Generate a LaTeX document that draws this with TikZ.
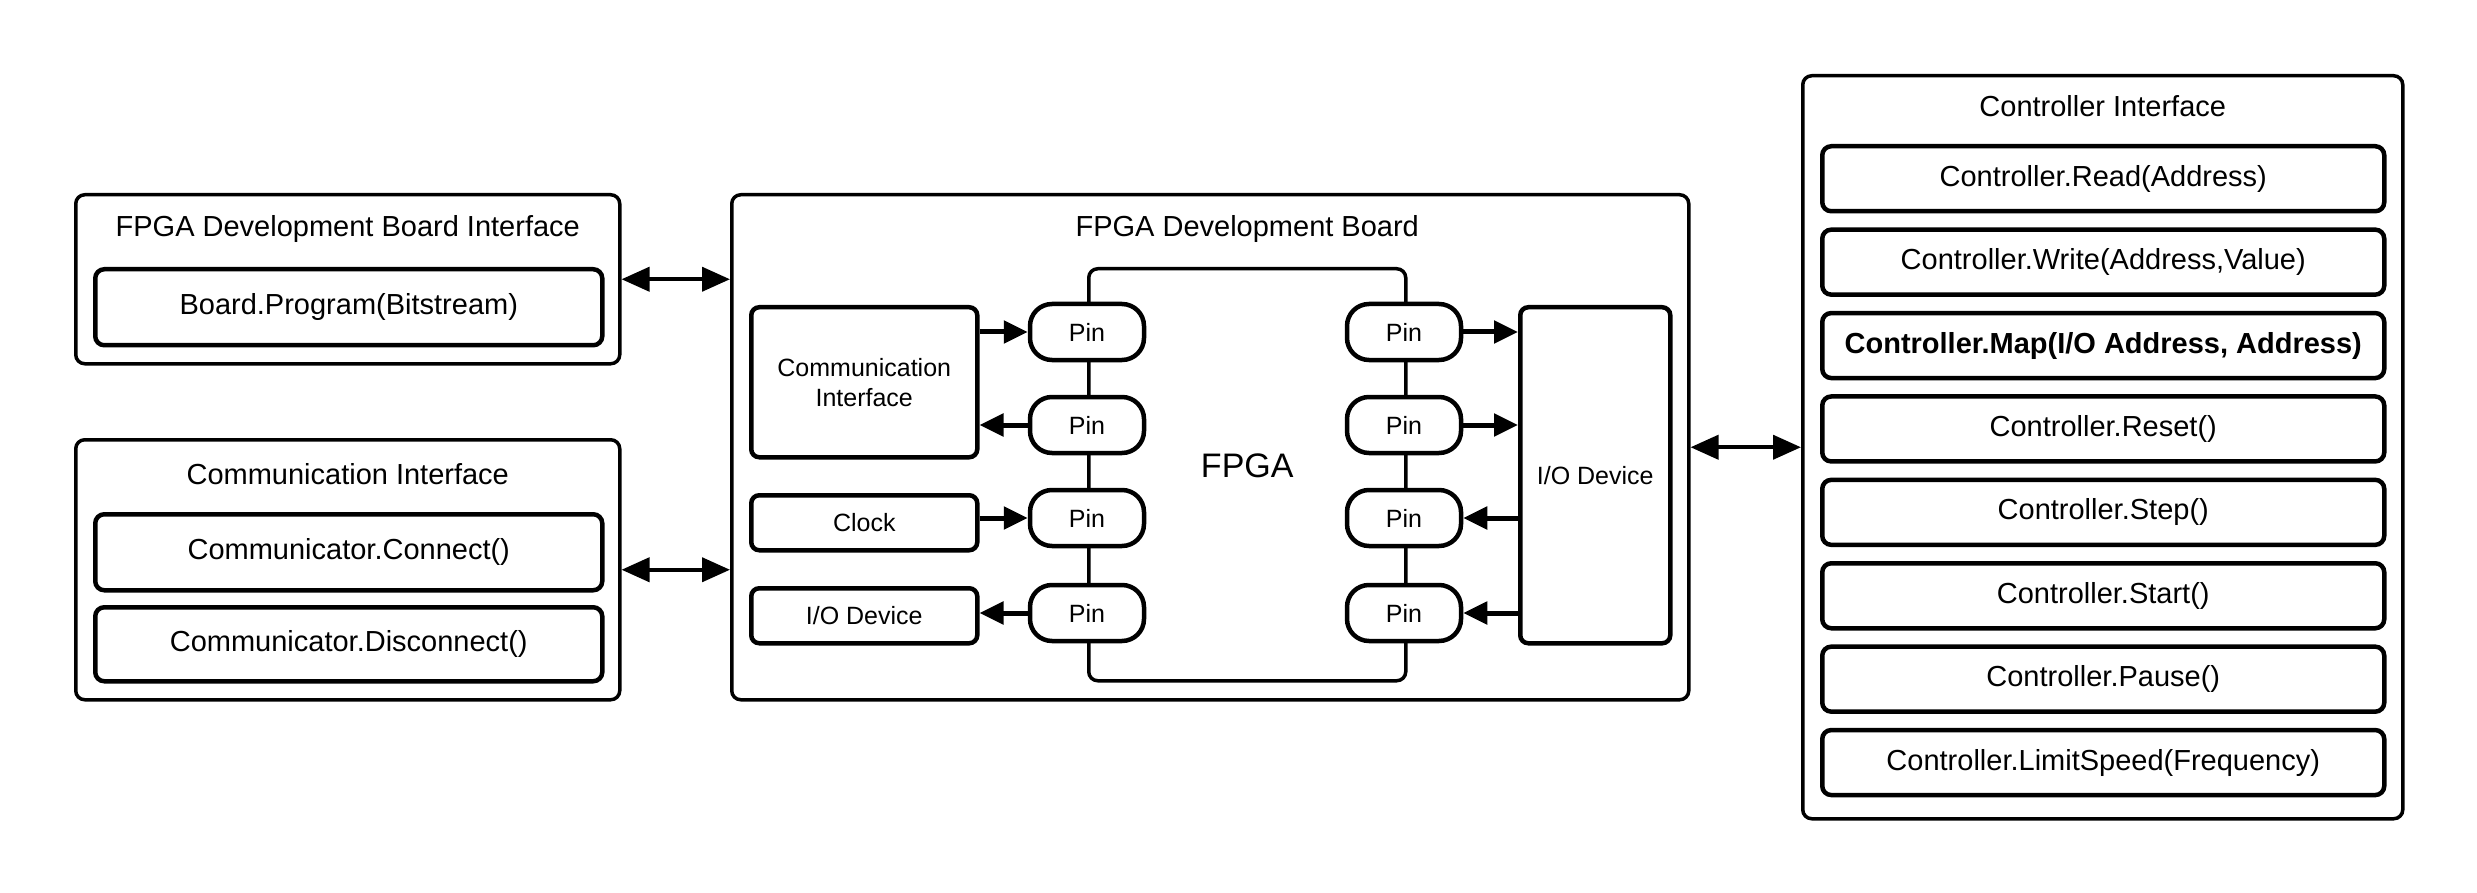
\documentclass[tikz,border=0pt]{standalone}
\usepackage{fontspec}
\setmainfont{Liberation Sans}
\usetikzlibrary{arrows.meta}
\newcommand\mainsz{\fontsize{29}{34}\selectfont}
\newcommand\smallsz{\fontsize{25}{30}\selectfont}
\begin{document}
\begin{tikzpicture}[x=1pt,y=-1pt,
  box/.style={draw,line width=3.5pt,rounded corners=9pt,inner sep=0pt,anchor=north west},
  item/.style={draw,line width=4.5pt,rounded corners=9pt,inner sep=0pt,anchor=north west,font=\mainsz},
  sitem/.style={draw,line width=4.5pt,rounded corners=8pt,inner sep=0pt,anchor=north west,font=\smallsz,align=center},
  pin/.style={draw,fill=white,line width=4.5pt,rounded corners=22pt,inner sep=0pt,minimum width=114pt,minimum height=56pt,font=\smallsz},
  title/.style={font=\mainsz,inner sep=0pt},
  dbl/.style={line width=4pt,{Triangle[length=28pt,width=24pt]}-{Triangle[length=28pt,width=24pt]}},
  pa/.style={line width=5pt,-{Triangle[length=24pt,width=22pt]}}
]
\useasboundingbox (0,0) rectangle (2477,893);

% left panels
\node[box,minimum width=544pt,minimum height=169pt] (fdbi) at (74,193) {};
\node[title] (fdbiT) at ([yshift=-36pt]fdbi.north) {FPGA Development Board Interface};
\node[item,minimum width=507pt,minimum height=76pt] (bprog) at (93,267) {Board.Program(Bitstream)};

\node[box,minimum width=544pt,minimum height=260pt] (commI) at (74,438) {};
\node[title] (commIT) at ([yshift=-36pt]commI.north) {Communication Interface};
\node[item,minimum width=507pt,minimum height=76pt] (conn) at (93,512) {Communicator.Connect()};
\node[item,minimum width=507pt,minimum height=74pt] (disc) at (93,605) {Communicator.Disconnect()};

% board
\node[box,minimum width=957pt,minimum height=505pt] (board) at (730,193) {};
\node[draw,line width=3.5pt,rounded corners=9pt,inner sep=0pt,anchor=north west,minimum width=317pt,minimum height=412pt] (fpga) at (1087,267) {};
\node[title] (boardT) at (fpga.north |- 0,229) {FPGA Development Board};
\node[font=\fontsize{34}{40}\selectfont,inner sep=0pt] (fpgalabel) at ([yshift=9pt]fpga.center) {FPGA};

\node[pin] (pL1) at (1087,332) {Pin};
\node[pin] (pL2) at (1087,425) {Pin};
\node[pin] (pL3) at (1087,518) {Pin};
\node[pin] (pL4) at (1087,613) {Pin};
\node[pin] (pR1) at (1404,332) {Pin};
\node[pin] (pR2) at (1404,425) {Pin};
\node[pin] (pR3) at (1404,518) {Pin};
\node[pin] (pR4) at (1404,613) {Pin};

\node[sitem,minimum width=226pt,minimum height=150pt] (ciL) at (749,305) {Communication\\Interface};
\node[sitem,minimum width=226pt,minimum height=55pt] (clk) at (749,493) {Clock};
\node[sitem,minimum width=226pt,minimum height=55pt] (iol) at (749,586) {I/O Device};
\node[sitem,minimum width=150pt,minimum height=336pt] (ior) at (1518,305) {I/O Device};

% controller
\node[box,minimum width=600pt,minimum height=743pt] (ctrl) at (1801,74) {};
\node[title] (ctrlT) at ([yshift=-32pt]ctrl.north) {Controller Interface};
\node[item,minimum width=562pt,minimum height=65pt] (c1) at (1820,144) {Controller.Read(Address)};
\node[item,minimum width=562pt,minimum height=65pt] (c2) at (1820,227.4) {Controller.Write(Address,Value)};
\node[item,minimum width=562pt,minimum height=65pt] (c3) at (1820,310.8) {\bfseries Controller.Map(I/O Address, Address)};
\node[item,minimum width=562pt,minimum height=65pt] (c4) at (1820,394.2) {Controller.Reset()};
\node[item,minimum width=562pt,minimum height=65pt] (c5) at (1820,477.6) {Controller.Step()};
\node[item,minimum width=562pt,minimum height=65pt] (c6) at (1820,561) {Controller.Start()};
\node[item,minimum width=562pt,minimum height=65pt] (c7) at (1820,644.4) {Controller.Pause()};
\node[item,minimum width=562pt,minimum height=65pt] (c8) at (1820,727.8) {Controller.LimitSpeed(Frequency)};

% connectors
\draw[dbl] (fdbi.east) -- (fdbi.east -| board.west);
\draw[dbl] (commI.east) -- (commI.east -| board.west);
\draw[dbl] (board.east) -- (board.east -| ctrl.west);

\draw[pa] (ciL.east |- pL1) -- (pL1.west);
\draw[pa] (pL2.west) -- (pL2.west -| ciL.east);
\draw[pa] (clk.east |- pL3) -- (pL3.west);
\draw[pa] (pL4.west) -- (pL4.west -| iol.east);
\draw[pa] (pR1.east) -- (pR1.east -| ior.west);
\draw[pa] (pR2.east) -- (pR2.east -| ior.west);
\draw[pa] (ior.west |- pR3) -- (pR3.east);
\draw[pa] (ior.west |- pR4) -- (pR4.east);
\end{tikzpicture}
\end{document}
